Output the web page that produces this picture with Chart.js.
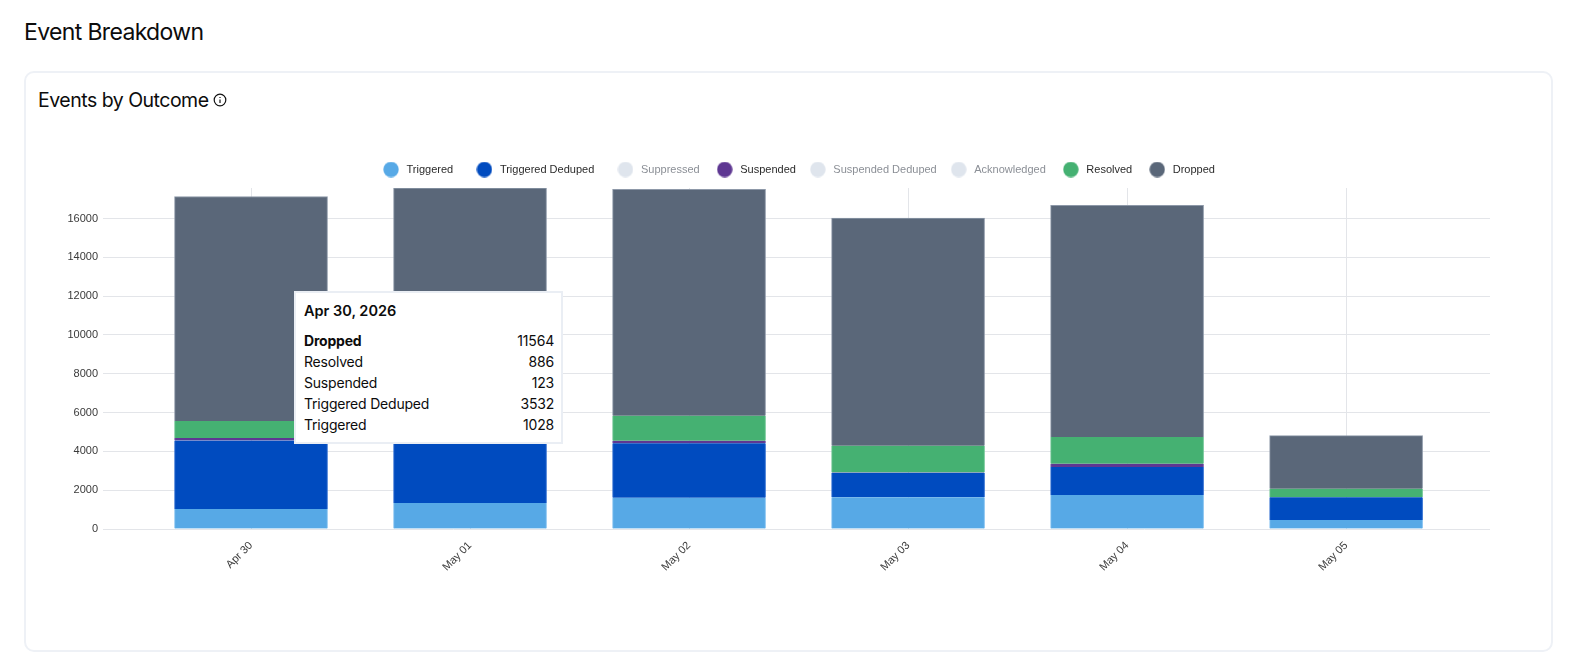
<!DOCTYPE html>
<html lang="en">
<head>
    <meta charset="UTF-8">
    <title>Event Breakdown</title>
    <script src="https://cdn.jsdelivr.net/npm/chart.js"></script>
    <style>
        html, body { margin: 0; padding: 0; background: #fff; overflow: hidden; }
        body { width: 1576px; height: 667px; position: relative; font-family: Inter, sans-serif; color: #0c0c0c; }
        h1 { position: absolute; left: 24px; top: 17px; margin: 0; font-size: 23px; line-height: 30px; font-weight: 400; letter-spacing: -0.65px; }
        .card { position: absolute; left: 24px; top: 71px; width: 1525px; height: 577px; border: 2px solid #eef1f6; border-radius: 10px; }
        h2 { position: absolute; left: 38px; top: 87px; margin: 0; font-size: 19.5px; line-height: 26px; font-weight: 400; letter-spacing: -0.5px; }
        .info { position: absolute; left: 213px; top: 93px; }
        #chartBox { position: absolute; left: 60px; top: 140px; width: 1476px; height: 459px; }
        #tip { position: absolute; box-sizing: border-box; background: #fff; border: 2px solid #eaeef4; padding: 7px 7px 0 8px; font-size: 14px; letter-spacing: -0.2px; line-height: 21px; display: none; }
        #tip .title { font-weight: 600; font-size: 14.5px; letter-spacing: 0; margin-bottom: 8px; line-height: 22px; }
        #tip .row { display: flex; justify-content: space-between; }
        #tip .row.on .name { font-weight: 700; }
    </style>
</head>
<body>
    <h1>Event Breakdown</h1>
    <div class="card"></div>
    <h2>Events by Outcome</h2>
    <svg class="info" width="14" height="14" viewBox="0 0 14 14" fill="none" stroke="#111" stroke-width="1.2">
        <circle cx="7" cy="7" r="5.8"/>
        <line x1="7" y1="6.4" x2="7" y2="10"/>
        <line x1="7" y1="3.9" x2="7" y2="5"/>
    </svg>
    <div id="chartBox"><canvas id="outcomeChart"></canvas></div>
    <div id="tip"></div>

    <script>
        var days = ['Apr 30', 'May 01', 'May 02', 'May 03', 'May 04', 'May 05'];
        var year = 2026;

        var triggered        = [1028, 1342, 1610, 1640, 1750, 465];
        var triggeredDeduped = [3532, 3250, 2813, 1255, 1440, 1173];
        var suppressed       = [0, 0, 0, 0, 0, 0];
        var suspended        = [123, 100, 122, 20, 172, 0];
        var suspendedDeduped = [0, 0, 0, 0, 0, 0];
        var acknowledged     = [0, 0, 0, 0, 0, 0];
        var resolved         = [886, 850, 1292, 1375, 1379, 431];
        var dropped          = [11564, 12028, 11663, 11725, 11935, 2741];

        var yTicks = [0, 2000, 4000, 6000, 8000, 10000, 12000, 14000, 16000];
        var yMax = 17570;

        var mutedDot = '#dfe5ed';
        var mutedText = '#8b8f96';

        // extra spaces after a legend name widen the gap before the next entry
        var legendTrail = { 'Triggered': 3, 'Triggered Deduped': 3, 'Suppressed': 1, 'Acknowledged': 1, 'Resolved': 1 };

        function series(label, values, color, edge, hidden) {
            return {
                label: label,
                data: values.map(function (v, i) { return { x: i, y: v }; }),
                backgroundColor: color,
                borderColor: edge,
                borderWidth: { left: 1, right: 1, top: label === 'Dropped' ? 1 : 0, bottom: 0 },
                barThickness: 153,
                hidden: !!hidden
            };
        }

        var datasets = [
            series('Triggered', triggered, '#57a9e6', '#7fbff0'),
            series('Triggered Deduped', triggeredDeduped, '#004bbf', '#2a6ad0'),
            series('Suppressed', suppressed, '#8993a4', '#8993a4', true),
            series('Suspended', suspended, '#5e3792', '#7d5aab'),
            series('Suspended Deduped', suspendedDeduped, '#8993a4', '#8993a4', true),
            series('Acknowledged', acknowledged, '#8993a4', '#8993a4', true),
            series('Resolved', resolved, '#45b172', '#6dc492'),
            series('Dropped', dropped, '#5a6779', '#8d98a8')
        ];

        // round legend markers, the swatch canvas keeps the circle from stretching with pointStyleWidth
        function dot(color) {
            var c = document.createElement('canvas');
            c.width = 16;
            c.height = 16;
            var g = c.getContext('2d');
            g.fillStyle = color;
            g.beginPath();
            g.arc(8, 8, 7.7, 0, Math.PI * 2);
            g.fill();
            return c;
        }

        function showTip(context) {
            var tip = document.getElementById('tip');
            var t = context.tooltip;
            if (!t.dataPoints || !t.dataPoints.length) {
                tip.style.display = 'none';
                return;
            }
            var html = '<div class="title">' + t.title[0] + '</div>';
            t.dataPoints.forEach(function (p, i) {
                html += '<div class="row' + (i === 0 ? ' on' : '') + '"><span class="name">' + p.dataset.label + '</span><span>' + p.parsed.y + '</span></div>';
            });
            tip.innerHTML = html;
            tip.style.left = '294px';
            tip.style.top = '291px';
            tip.style.width = '269px';
            tip.style.height = '153px';
            tip.style.display = 'block';
        }

        // pushes the plot a little further below the legend row
        var legendGap = {
            id: 'legendGap',
            beforeInit: function (c) {
                var fit = c.legend.fit;
                c.legend.fit = function () {
                    fit.call(this);
                    this.height += 3;
                };
            }
        };

        var chart = new Chart(document.getElementById('outcomeChart'), {
            type: 'bar',
            data: { datasets: datasets },
            plugins: [legendGap],
            options: {
                responsive: true,
                maintainAspectRatio: false,
                animation: false,
                layout: { padding: { top: 12 } },
                plugins: {
                    legend: {
                        position: 'top',
                        onClick: null,
                        labels: {
                            usePointStyle: true,
                            pointStyleWidth: 20,
                            padding: 12,
                            font: { family: '"Liberation Sans", Arial, sans-serif', size: 11 },
                            generateLabels: function (c) {
                                return c.data.datasets.map(function (ds, i) {
                                    var off = ds.hidden;
                                    return {
                                        text: ds.label + ' '.repeat(legendTrail[ds.label] || 0),
                                        datasetIndex: i,
                                        hidden: false,
                                        fontColor: off ? mutedText : '#2b2b2b',
                                        lineWidth: 0,
                                        pointStyle: dot(off ? mutedDot : ds.backgroundColor)
                                    };
                                });
                            }
                        }
                    },
                    tooltip: {
                        enabled: false,
                        external: showTip,
                        itemSort: function (a, b) { return b.datasetIndex - a.datasetIndex; },
                        callbacks: {
                            title: function (items) { return days[items[0].parsed.x] + ', ' + year; }
                        }
                    }
                },
                scales: {
                    x: {
                        type: 'linear',
                        stacked: true,
                        offset: false,
                        min: -0.653,
                        max: 5.657,
                        afterBuildTicks: function (scale) {
                            scale.ticks = days.map(function (d, i) { return { value: i }; });
                        },
                        afterFit: function (scale) { scale.height = 70; },
                        grid: { offset: false, color: '#e3e5e9', drawTicks: false },
                        border: { display: false },
                        ticks: {
                            autoSkip: false,
                            minRotation: 45,
                            maxRotation: 45,
                            padding: 10,
                            color: '#3a3a3a',
                            font: { family: '"Liberation Sans", Arial, sans-serif', size: 11 },
                            callback: function (v) { return days[v]; }
                        }
                    },
                    y: {
                        stacked: true,
                        min: 0,
                        max: yMax,
                        afterBuildTicks: function (scale) {
                            scale.ticks = yTicks.map(function (v) { return { value: v }; });
                        },
                        afterFit: function (scale) { scale.width = 48; },
                        grid: { color: '#e3e5e9', tickLength: 5 },
                        border: { display: false },
                        ticks: {
                            padding: 5,
                            color: '#3a3a3a',
                            font: { family: '"Liberation Sans", Arial, sans-serif', size: 11 },
                            callback: function (v) { return String(v); }
                        }
                    },
                    // empty axis that holds the space to the right of the plot, the legend stays centred on the full width
                    rightGutter: {
                        position: 'right',
                        grid: { display: false },
                        border: { display: false },
                        ticks: { display: false },
                        afterFit: function (scale) { scale.width = 46; }
                    }
                }
            }
        });

        // the first day stays selected so its breakdown is on show
        var active = [];
        datasets.forEach(function (ds, i) {
            if (!ds.hidden) active.push({ datasetIndex: i, index: 0 });
        });
        chart.tooltip.setActiveElements(active, { x: 251, y: 200 });
        chart.update();
    </script>
</body>
</html>
